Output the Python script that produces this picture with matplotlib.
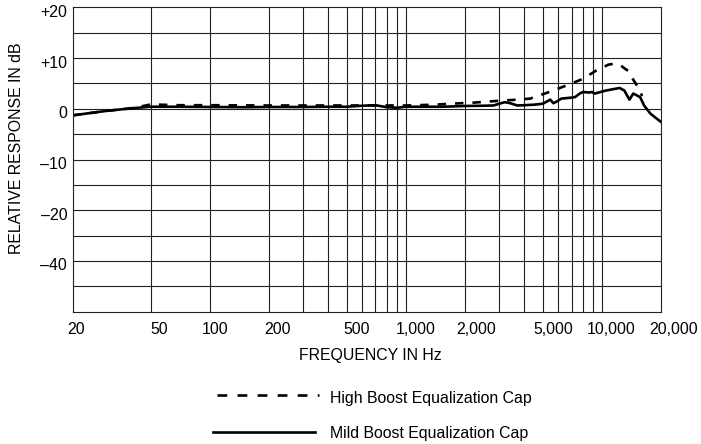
import matplotlib
matplotlib.use("Agg")
import matplotlib.pyplot as plt
from matplotlib.lines import Line2D

plt.rcParams["font.family"] = ["Liberation Sans", "DejaVu Sans"]

# Frequency response data (Hz, dB)
mild_freq = [20, 25, 30, 40, 50, 70, 100, 150, 200, 300, 400, 500, 600, 700,
             800, 900, 1000, 1200, 1500, 1700, 2000, 2500, 2800, 3000, 3200,
             3400, 3700, 4000, 4500, 5000, 5450, 5650, 5900, 6200, 7000, 7300,
             7700, 8000, 8600, 8900, 9200, 10500, 12300, 13000, 13800, 14450,
             15650, 16400, 17700, 20000]
mild_db = [-1.3, -0.8, -0.4, 0.1, 0.4, 0.4, 0.35, 0.3, 0.35, 0.35, 0.4, 0.4,
           0.6, 0.7, 0.3, 0.2, 0.4, 0.4, 0.4, 0.45, 0.55, 0.6, 0.65, 1.0, 1.3,
           1.1, 0.65, 0.7, 0.8, 1.0, 1.8, 1.1, 1.45, 2.0, 2.2, 2.3, 3.0, 3.3,
           3.2, 3.3, 3.0, 3.6, 4.1, 3.6, 1.8, 3.0, 2.3, 0.65, -1.0, -2.6]

high_freq = [20, 25, 30, 40, 50, 70, 100, 200, 500, 1000, 1400, 1700, 2200,
             2800, 3700, 4300, 5200, 6600, 8000, 9400, 10800, 11600, 12400,
             13100, 13700, 14300, 14900, 15650, 16000]
high_db = [-1.3, -0.8, -0.4, 0.1, 0.85, 0.7, 0.7, 0.65, 0.65, 0.65, 0.8, 1.0,
           1.2, 1.5, 1.8, 2.0, 3.1, 4.6, 5.9, 7.6, 8.7, 8.9, 8.6, 7.9, 7.4,
           6.0, 4.9, 3.6, 2.5]

# Axis ticks / labels
x_grid = [50, 100, 200, 300, 400, 500, 600, 700, 800, 900, 1000,
          2000, 3000, 4000, 5000, 6000, 7000, 8000, 9000, 10000]
x_label_freq = [20, 50, 100, 200, 500, 1000, 2000, 5000, 10000, 20000]
x_label_text = ["20", "50", "100", "200", "500", "1,000", "2,000",
                "5,000", "10,000", "20,000"]
y_label_val = [20, 10, 0, -10, -20, -30]
y_label_text = ["+20", "+10", "0", "\u201310", "\u201320", "\u201340"]

# small horizontal nudges (px) of the x labels as printed in the original
x_label_nudge = [3.3, 8.3, 5.7, 9.2, 10, 9.8, 11.1, 10, 9, 13]

fs = 11.4
W, H = 701, 444
fig = plt.figure(figsize=(W / 100, H / 100), dpi=100)
ax = fig.add_axes([72.7 / W, 1 - 311.7 / H, (661 - 72.7) / W, (311.7 - 7.3) / H])

ax.plot(mild_freq, mild_db, color="black", lw=1.9, solid_joinstyle="round")
ax.plot(high_freq, high_db, color="black", lw=1.9, linestyle=(0, (3.2, 3.4)))

ax.set_xscale("log")
ax.set_xlim(20, 20000)
ax.set_ylim(-40, 20)
ax.set_xticks(x_grid)
ax.set_xticks([], minor=True)
ax.set_yticks(range(-35, 20, 5))
ax.tick_params(length=0, labelbottom=False, labelleft=False)
ax.grid(True, color="#222222", lw=0.8)
for s in ax.spines.values():
    s.set_color("#222222")
    s.set_linewidth(0.8)

for f, t, dx in zip(x_label_freq, x_label_text, x_label_nudge):
    ax.annotate(t, xy=(f, 0), xycoords=("data", "axes fraction"),
                xytext=(dx * 0.72, -18 * 0.72), textcoords="offset points",
                ha="center", va="center", fontsize=fs, annotation_clip=False)

for v, t in zip(y_label_val, y_label_text):
    ax.annotate(t, xy=(0, v), xycoords=("axes fraction", "data"),
                xytext=(-5.5 * 0.72, -5 * 0.72), textcoords="offset points",
                ha="right", va="center", fontsize=fs, annotation_clip=False)

fig.text(16.7 / W, 1 - 148 / H, "RELATIVE RESPONSE IN dB", rotation=90,
         ha="center", va="center", fontsize=fs)
fig.text(370 / W, 1 - 355 / H, "FREQUENCY IN Hz", ha="center", va="center",
         fontsize=fs)

# legend drawn under the chart
fig.add_artist(Line2D([216.7 / W, 319 / W], [1 - 395 / H, 1 - 395 / H],
                      color="black", lw=1.9, linestyle=(0, (3.7, 3.9))))
fig.add_artist(Line2D([212.7 / W, 315 / W], [1 - 432 / H, 1 - 432 / H],
                      color="black", lw=1.9))
fig.text(330 / W, 1 - 398 / H, "High Boost Equalization Cap", ha="left",
         va="center", fontsize=fs)
fig.text(330 / W, 1 - 433 / H, "Mild Boost Equalization Cap", ha="left",
         va="center", fontsize=fs)

fig.savefig("out.png", dpi=100)
